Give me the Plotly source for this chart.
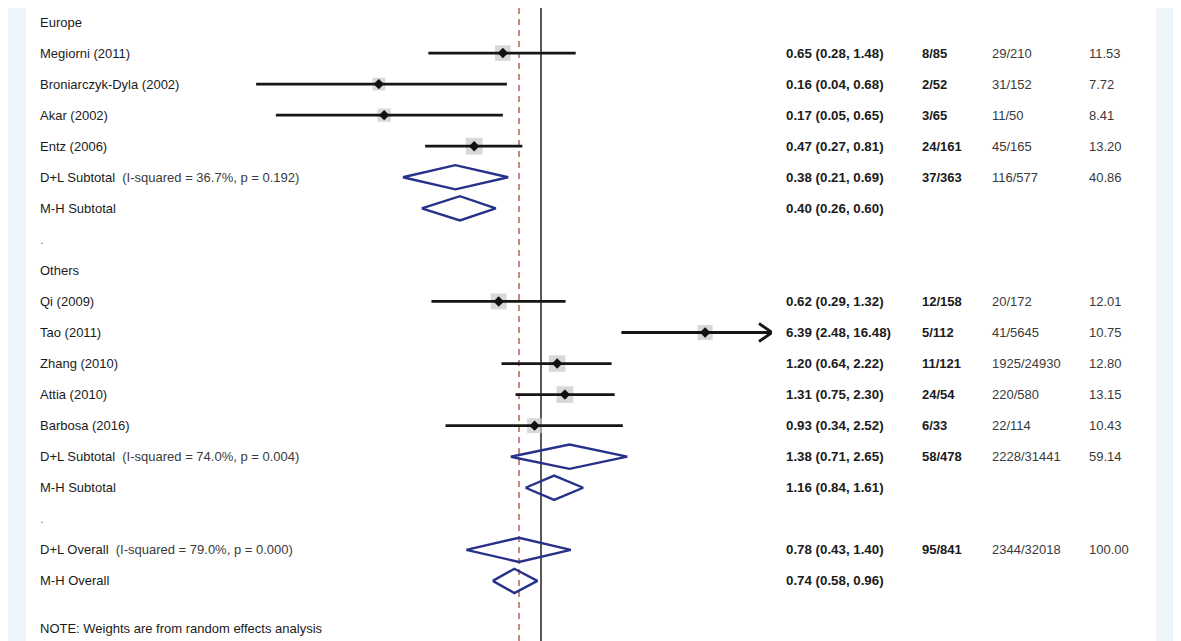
import math
import plotly.graph_objects as go

# ---------------- data ----------------
labels = [
    "Europe", "Megiorni (2011)", "Broniarczyk-Dyla (2002)", "Akar (2002)", "Entz (2006)",
    "D+L Subtotal", "M-H Subtotal", ".",
    "Others", "Qi (2009)", "Tao (2011)", "Zhang (2010)", "Attia (2010)", "Barbosa (2016)",
    "D+L Subtotal", "M-H Subtotal", ".",
    "D+L Overall", "M-H Overall",
]
label_notes = [
    "", "", "", "", "",
    "(I-squared = 36.7%, p = 0.192)", "", "",
    "", "", "", "", "", "",
    "(I-squared = 74.0%, p = 0.004)", "", "",
    "(I-squared = 79.0%, p = 0.000)", "",
]
row_kind = [
    "head", "study", "study", "study", "study", "pool", "pool", "blank",
    "head", "study", "study", "study", "study", "study", "pool", "pool", "blank",
    "pool", "pool",
]
odds_ratio = [None, 0.65, 0.16, 0.17, 0.47, 0.38, 0.40, None,
              None, 0.62, 6.39, 1.20, 1.31, 0.93, 1.38, 1.16, None,
              0.78, 0.74]
ci_low = [None, 0.28, 0.04, 0.05, 0.27, 0.21, 0.26, None,
          None, 0.29, 2.48, 0.64, 0.75, 0.34, 0.71, 0.84, None,
          0.43, 0.58]
ci_high = [None, 1.48, 0.68, 0.65, 0.81, 0.69, 0.60, None,
           None, 1.32, 16.48, 2.22, 2.30, 2.52, 2.65, 1.61, None,
           1.40, 0.96]
events_case = ["", "8/85", "2/52", "3/65", "24/161", "37/363", "", "",
               "", "12/158", "5/112", "11/121", "24/54", "6/33", "58/478", "", "",
               "95/841", ""]
events_ctrl = ["", "29/210", "31/152", "11/50", "45/165", "116/577", "", "",
               "", "20/172", "41/5645", "1925/24930", "220/580", "22/114", "2228/31441", "", "",
               "2344/32018", ""]
weights = [None, 11.53, 7.72, 8.41, 13.20, 40.86, None, None,
           None, 12.01, 10.75, 12.80, 13.15, 10.43, 59.14, None, None,
           100.00, None]
overall_row = 17  # D+L overall estimate -> dashed reference line
note_text = "NOTE: Weights are from random effects analysis"

# ---------------- layout geometry ----------------
W, H = 1181, 641
OFF = 8.0  # page body margin offset
NULL_PX = 541.0 - OFF
PX_PER_LN = 88.5
ROW0_PX = 22.0 - OFF
ROW_PX = 31.05
PLOT_L_PX, PLOT_R_PX = 250.0 - OFF, 772.0 - OFF


def px_to_log10(p):
    return (p - NULL_PX) / PX_PER_LN / math.log(10)


x_range = [px_to_log10(PLOT_L_PX), px_to_log10(PLOT_R_PX)]
x_max = 10 ** x_range[1]
y_top = -ROW0_PX / ROW_PX
y_bot = (H - ROW0_PX) / ROW_PX

TEXT_FONT = "Arial, Liberation Sans, sans-serif"
DARK = "#1b1b1b"
GREY_TXT = "#3a3a3a"

fig = go.Figure()

# vertical reference lines
fig.add_trace(go.Scatter(x=[1, 1], y=[y_top, y_bot], mode="lines",
                         line=dict(color="#111111", width=1.4), hoverinfo="skip"))
ref = odds_ratio[overall_row]
fig.add_trace(go.Scatter(x=[ref, ref], y=[y_top, y_bot], mode="lines",
                         line=dict(color="#c26a5c", width=1.6, dash="6px,5px"),
                         hoverinfo="skip"))

box_x, box_y, box_s = [], [], []
ci_x, ci_y = [], []
arrow_x, arrow_y = [], []
dia_x, dia_y = [], []
for i, k in enumerate(row_kind):
    if k == "study":
        box_x.append(odds_ratio[i])
        box_y.append(i)
        box_s.append(4.6 * math.sqrt(weights[i]))
        hi = min(ci_high[i], x_max)
        ci_x += [ci_low[i], hi, None]
        ci_y += [i, i, None]
        if ci_high[i] > x_max:
            back = 10 ** (x_range[1] - 13 / PX_PER_LN / math.log(10))
            arrow_x += [back, x_max, back, None]
            arrow_y += [i - 0.29, i, i + 0.29, None]
    elif k == "pool":
        h = 0.39
        dia_x += [ci_low[i], odds_ratio[i], ci_high[i], odds_ratio[i], ci_low[i], None]
        dia_y += [i, i - h, i, i + h, i, None]

fig.add_trace(go.Scatter(x=box_x, y=box_y, mode="markers",
                         marker=dict(symbol="square", size=box_s, color="#c4c8cb",
                                     line=dict(width=0)), hoverinfo="skip"))
fig.add_trace(go.Scatter(x=ci_x, y=ci_y, mode="lines",
                         line=dict(color="#161616", width=2.8), hoverinfo="skip"))
fig.add_trace(go.Scatter(x=arrow_x, y=arrow_y, mode="lines",
                         line=dict(color="#161616", width=2.8), hoverinfo="skip"))
fig.add_trace(go.Scatter(x=box_x, y=box_y, mode="markers",
                         marker=dict(symbol="diamond", size=8, color="#111111"),
                         hoverinfo="skip"))
fig.add_trace(go.Scatter(x=dia_x, y=dia_y, mode="lines",
                         line=dict(color="#27318a", width=2.4), hoverinfo="skip"))

# ---------------- text ----------------
annots = []
COL_LABEL = (38 - OFF) / W
COL_EST = (784 - OFF) / W
COL_CASE = (920 - OFF) / W
COL_CTRL = (990 - OFF) / W
COL_W = (1087 - OFF) / W


def add_text(xp, row, text, bold=False, color=DARK, size=13):
    annots.append(dict(x=xp, y=row, xref="paper", yref="y", text=text,
                       showarrow=False, xanchor="left", yanchor="middle",
                       font=dict(family=TEXT_FONT, size=size, color=color,
                                 weight="bold" if bold else "normal")))


for i, lab in enumerate(labels):
    txt = lab
    if label_notes[i]:
        txt = lab + "\u00a0\u00a0" + f"<span style='color:{GREY_TXT}'>{label_notes[i]}</span>"
    add_text(COL_LABEL, i, txt, color=DARK if row_kind[i] != "blank" else "#777777")
    if odds_ratio[i] is not None:
        add_text(COL_EST, i, f"{odds_ratio[i]:.2f} ({ci_low[i]:.2f}, {ci_high[i]:.2f})",
                 bold=True, size=13.3)
    if events_case[i]:
        add_text(COL_CASE, i, events_case[i], bold=True)
    if events_ctrl[i]:
        add_text(COL_CTRL, i, events_ctrl[i], color=GREY_TXT)
    if weights[i] is not None:
        add_text(COL_W, i, f"{weights[i]:.2f}", color=GREY_TXT)

add_text(COL_LABEL, 19.52, note_text)

# ---------------- background panels ----------------
shapes = [
    dict(type="rect", xref="paper", yref="paper", x0=(26 - OFF) / W, x1=(1156 - OFF) / W,
         y0=0, y1=1, fillcolor="white", line=dict(width=0), layer="below"),
]

fig.update_layout(
    width=W, height=H,
    margin=dict(l=0, r=0, t=0, b=0),
    paper_bgcolor="#edf5f9",
    plot_bgcolor="rgba(0,0,0,0)",
    showlegend=False,
    annotations=annots,
    shapes=shapes,
    xaxis=dict(type="log", domain=[PLOT_L_PX / W, PLOT_R_PX / W], range=x_range,
               showgrid=False, zeroline=False, showticklabels=False, ticks="",
               showline=False, fixedrange=True),
    yaxis=dict(domain=[0, 1], range=[y_bot, y_top], showgrid=False, zeroline=False,
               showticklabels=False, ticks="", showline=False, fixedrange=True),
)

fig.write_html("out.html")
